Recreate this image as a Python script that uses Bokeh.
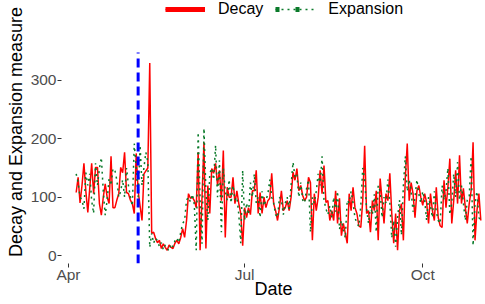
import pandas as pd
from bokeh.plotting import figure
from bokeh.models import (Range1d, FixedTicker, Legend, LegendItem,
                          ColumnDataSource, DatetimeTickFormatter)
from bokeh.embed import file_html
from bokeh.resources import INLINE

start_date = "2021-04-05"
decay = [108, 134, 90, 120, 158, 110, 74, 115, 158, 106,
         151, 151, 89, 69, 100, 123, 100, 89, 170, 82,
         82, 95, 106, 151, 142, 177, 108, 106, 95, 89,
         72, 175, 111, 85, 60, 140, 145, 150, 330, 38,
         40, 29, 22, 26, 12, 20, 14, 9, 18, 14,
         12, 21, 26, 20, 31, 46, 31, 60, 106, 98,
         100, 94, 82, 177, 9, 100, 194, 12, 120, 72,
         149, 141, 158, 120, 146, 94, 180, 31, 117, 100,
         100, 134, 89, 111, 89, 72, 17, 82, 65, 82,
         70, 111, 111, 146, 72, 108, 72, 100, 82, 94,
         98, 141, 89, 77, 60, 82, 111, 77, 82, 94,
         77, 100, 143, 129, 149, 111, 120, 103, 94, 100,
         134, 125, 26, 106, 77, 100, 146, 106, 154, 91,
         94, 60, 77, 60, 111, 55, 98, 34, 55, 38,
         21, 106, 77, 117, 82, 72, 51, 48, 94, 188,
         72, 77, 40, 94, 77, 111, 26, 132, 94, 55,
         106, 94, 141, 72, 21, 72, 9, 77, 89, 26,
         134, 192, 94, 125, 106, 65, 111, 120, 100, 86,
         106, 91, 55, 106, 77, 60, 117, 65, 51, 48,
         129, 82, 117, 166, 55, 94, 146, 89, 172, 89,
         115, 82, 55, 89, 111, 194, 26, 77, 106, 60]
expansion = [140, 125, 100, 95, 80, 142, 120, 140, 94, 72,
             158, 120, 149, 168, 110, 69, 95, 132, 120, 149,
             146, 129, 100, 110, 130, 100, 150, 120, 100, 85,
             192, 150, 100, 189, 120, 151, 177, 160, 14, 38,
             21, 30, 25, 15, 22, 10, 18, 12, 8, 20,
             15, 25, 30, 22, 40, 55, 60, 95, 100, 92,
             105, 88, 9, 211, 95, 20, 218, 110, 60, 140,
             150, 130, 189, 100, 163, 40, 150, 110, 95, 130,
             90, 120, 95, 100, 70, 21, 146, 60, 90, 70,
             125, 100, 140, 90, 100, 65, 110, 85, 95, 105,
             130, 100, 90, 70, 65, 100, 95, 70, 90, 100,
             80, 120, 160, 135, 140, 100, 125, 95, 90, 115,
             130, 40, 100, 90, 110, 140, 120, 170, 95, 80,
             70, 85, 65, 100, 75, 110, 45, 60, 45, 30,
             95, 90, 110, 90, 65, 55, 50, 85, 150, 130,
             80, 55, 85, 70, 105, 40, 120, 110, 65, 100,
             90, 130, 90, 30, 60, 15, 65, 95, 35, 120,
             170, 110, 130, 110, 75, 100, 130, 105, 90, 110,
             95, 60, 100, 85, 65, 110, 75, 60, 55, 120,
             95, 110, 150, 70, 90, 140, 100, 160, 95, 120,
             90, 60, 95, 100, 170, 17, 90, 110, 65, 60]
x_tick_dates = ["2021-04-01", "2021-07-01", "2021-10-01"]
x_tick_labels = ["Apr", "Jul", "Oct"]
y_ticks = [0, 100, 200, 300]
event_date = "2021-05-07"
series_labels = ["Decay", "Expansion"]
panel_y_min, panel_y_max = -13.7, 348      # extent of the data panel (vline spans it)

dates = pd.date_range(start_date, periods=len(decay), freq="D")
src = ColumnDataSource(dict(date=dates, decay=decay, expansion=expansion))

FONT = "Liberation Sans"

# frame extended upward to hold the legend; data scale unchanged
p = figure(width=493, height=312, output_backend="svg", toolbar_location=None,
           x_axis_type="datetime",
           x_range=Range1d(pd.Timestamp("2021-03-28 10:00"), pd.Timestamp("2021-11-02 10:00")),
           y_range=Range1d(-13.7, 437.1),
           min_border_left=69, min_border_right=0, min_border_top=8, min_border_bottom=41,
           outline_line_color=None, title_location="left")
p.styles = {"margin-left": "-8px", "margin-top": "-8px"}

r_decay = p.line("date", "decay", source=src, line_color="red", line_width=1.5)
r_exp = p.line("date", "expansion", source=src, line_color="#0a7a2a", line_width=1.5, line_dash="2 4")

ev = pd.Timestamp(event_date)
p.segment(x0=[ev], y0=[panel_y_min], x1=[ev], y1=[panel_y_max],
          line_color="blue", line_width=3, line_dash="9 5")

# thick legend keys (single NaN point: nothing drawn in the panel)
leg_decay = p.line(x=[ev], y=[float("nan")], line_color="red", line_width=5)
leg_exp = p.line(x=[ev], y=[float("nan")], line_color="#0a7a2a", line_width=5, line_dash="4 16")
legend = Legend(items=[LegendItem(label=series_labels[0], renderers=[r_decay, leg_decay]),
                       LegendItem(label=series_labels[1], renderers=[r_exp, leg_exp])],
                orientation="horizontal", location=(104, 245), glyph_width=40, glyph_height=18,
                label_height=18, label_standoff=13, spacing=12, padding=0, margin=0,
                border_line_color=None, background_fill_alpha=0,
                label_text_font=FONT, label_text_font_size="16px", label_text_color="black")
p.add_layout(legend)

p.title.text = "Decay and Expansion measure"
p.title.align = "center"
p.title.offset = -27
p.title.standoff = 3
p.title.text_font = FONT
p.title.text_font_size = "18px"
p.title.text_font_style = "normal"
p.title.text_color = "black"

p.xgrid.grid_line_color = None
p.ygrid.grid_line_color = None

p.xaxis.ticker = FixedTicker(ticks=[pd.Timestamp(d).timestamp() * 1000 for d in x_tick_dates])
p.xaxis.formatter = DatetimeTickFormatter(months="%b", days="%b", hours="%b", years="%b")
p.yaxis.ticker = FixedTicker(ticks=y_ticks)
p.xaxis.axis_label = "Date"

for ax in (p.xaxis[0], p.yaxis[0]):
    ax.axis_line_color = None
    ax.major_tick_line_color = "#333333"
    ax.major_tick_out = 4
    ax.major_tick_in = 0
    ax.minor_tick_line_color = None
    ax.major_label_text_font = FONT
    ax.major_label_text_font_size = "15.5px"
    ax.major_label_text_color = "#4d4d4d"
    ax.axis_label_text_font = FONT
    ax.axis_label_text_font_size = "18px"
    ax.axis_label_text_font_style = "normal"
    ax.axis_label_text_color = "black"
p.xaxis.major_label_standoff = -2
p.xaxis.axis_label_standoff = -7
p.yaxis.major_label_standoff = 1

open("out.html", "w").write(file_html(p, INLINE))
